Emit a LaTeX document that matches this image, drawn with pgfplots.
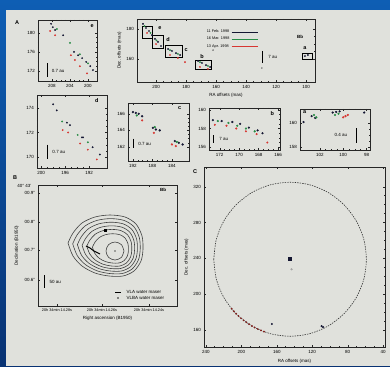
\documentclass[border=0pt]{standalone}
\usepackage{pgfplots}
\usepackage{pgfplotstable}
\pgfplotsset{compat=1.18}
\usepackage{fontspec}
\setmainfont{Liberation Sans}
\definecolor{slideblue}{RGB}{14,94,180}
\definecolor{slidedark}{RGB}{8,50,115}
\definecolor{panelgray}{RGB}{224,225,220}
\definecolor{sgreen}{RGB}{40,140,70}
\definecolor{sred}{RGB}{215,55,50}
\definecolor{sblack}{RGB}{20,22,50}
\newcommand{\tf}{\fontsize{4.5}{4.8}\selectfont}
\newcommand{\lf}{\fontsize{5.5}{6}\selectfont\bfseries}
\pgfplotsset{
  every axis/.append style={
    scale only axis,
    anchor=north west,
    axis line style={line width=0.5pt, black!85},
    every tick/.style={black!85, line width=0.35pt},
    major tick length=1.8pt,
    minor tick length=1pt,
    tick label style={font=\tf},
    label style={font=\tf},
    /pgf/number format/assume math mode=true,
    /pgf/number format/1000 sep={},
    xticklabel style={yshift=0.5pt},
    yticklabel style={xshift=0.5pt},
  },
  blk/.style={only marks, mark=*, mark size=0.7pt, draw=sblack, fill=sblack},
  grn/.style={only marks, mark=*, mark size=0.7pt, draw=sgreen, fill=sgreen},
  rd/.style={only marks, mark=*, mark size=0.7pt, draw=sred, fill=sred},
  bar/.style={black, line width=0.45pt},
}
\pgfplotstableread{
dx dy
-47 -8
-42 -18
-33 -28
-20 -34
-5 -36
10 -34
21 -27
27 -15
28 -2
26 10
19 20
8 25
-6 25
-20 22
-33 15
-42 5
-47 -8
}\contourbase
\begin{document}
\begin{tikzpicture}
\path[use as bounding box] (0,0) rectangle (390pt,-366pt);
\shade[top color=slideblue, bottom color=slidedark] (0,0) rectangle (390pt,-366pt);
\fill[panelgray] (6pt,-10pt) rectangle (390pt,-366pt);
\node[font=\lf] at (17pt,-23pt) {A};
\node[font=\lf] at (15pt,-178pt) {B};
\node[font=\lf] at (195pt,-172pt) {C};

% ---- panel e (top left)
\begin{axis}[at={(38pt,-20pt)}, width=59pt, height=61pt,
  x dir=reverse, xmin=198, xmax=211.1, ymin=169.9, ymax=182.7,
  xtick={200,204,208}, ytick={172,176,180}, minor x tick num=3, minor y tick num=3]
\addplot[blk] coordinates {(208.2,181.9) (207.8,181.2) (207.3,180.6) (205.5,179.5) (203.1,176.0) (202.2,175.3) (201.3,174.7) (200.4,173.9) (199.5,173.0) (198.9,172.2)};
\addplot[grn] coordinates {(206.9,180.8) (204.0,177.9) (201.8,175.5) (200.0,173.6)};
\addplot[rd] coordinates {(208.4,180.4) (207.3,179.5) (203.8,175.3) (202.9,174.3) (201.8,173.0) (200.2,171.5)};
\addplot[bar] coordinates {(209.1,173.6) (209.1,170.7)};
\node[font=\tf, anchor=west] at (axis cs:208.8,172.1) {0.7 au};
\node[font=\lf] at (axis cs:199.1,181.4) {e};
\end{axis}

% ---- panel b (overview)
\begin{axis}[at={(137pt,-19pt)}, width=178pt, height=63pt,
  x dir=reverse, xmin=94, xmax=212.7, ymin=144.7, ymax=186.7,
  xtick={100,120,...,200}, ytick={160,180}, minor x tick num=3, minor y tick num=3,
  xlabel={RA offsets (mas)}, ylabel={Dec. offsets (mas)},
  xlabel style={yshift=2pt}, ylabel style={yshift=-2pt},
  legend style={at={(0.38,0.86)}, anchor=north west, draw=none, fill=none,
    font=\fontsize{3.8}{4}\selectfont, inner sep=0pt, row sep=-1pt},
  legend plot pos=right, legend cell align=left,
  legend image code/.code={\draw[#1, line width=0.6pt] (0pt,0pt) -- (26pt,0pt);},
  legend entries={11 Feb. 1998, 16 Mar. 1998, 13 Apr. 1998}]
\addlegendimage{sblack}
\addlegendimage{sgreen}
\addlegendimage{sred}
\addplot[blk] coordinates {(208.7,183.4) (206.7,180.7) (204.7,178.7) (202.7,176.0) (200.7,173.4) (198.7,171.4) (196.7,168.7) (192.0,166.7) (189.4,165.4) (186.7,164.0) (184.0,162.7) (172.0,158.7) (169.4,157.4) (166.7,156.0) (164.0,154.7) (100.7,162.0) (98.7,162.7)};
\addplot[grn] coordinates {(207.7,182.0) (203.7,177.4) (199.7,172.4) (190.7,166.0) (185.4,163.4) (170.7,158.0) (165.4,155.4)};
\addplot[rd] coordinates {(206.0,177.4) (200.0,170.0) (190.7,162.7) (185.4,160.7) (180.7,158.0) (170.7,154.7) (165.4,153.4)};
\addplot[only marks, mark=*, mark size=0.5pt, black!60] coordinates {(162.0,166.0) (129.4,154.0)};
\addplot[bar] coordinates {(209.4,182.0) (202.7,182.0) (202.7,174.0) (209.4,174.0) (209.4,182.0)};
\addplot[bar] coordinates {(202.7,176.0) (195.4,176.0) (195.4,167.4) (202.7,167.4) (202.7,176.0)};
\addplot[bar] coordinates {(194.0,169.4) (182.7,169.4) (182.7,161.4) (194.0,161.4) (194.0,169.4)};
\addplot[bar] coordinates {(174.0,159.4) (163.4,159.4) (163.4,153.4) (174.0,153.4) (174.0,159.4)};
\addplot[bar] coordinates {(102.7,164.0) (96.0,164.0) (96.0,160.0) (102.7,160.0) (102.7,164.0)};
\addplot[bar] coordinates {(129.4,165.4) (129.4,157.4)};
\node[font=\tf, anchor=west] at (axis cs:127.4,161.4) {7 au};
\node[font=\lf] at (axis cs:197.4,180.7) {e};
\node[font=\lf] at (axis cs:192.0,172.7) {d};
\node[font=\lf] at (axis cs:180.0,166.0) {c};
\node[font=\lf] at (axis cs:169.4,162.0) {b};
\node[font=\lf] at (axis cs:100.7,167.4) {a};
\node[font=\tf\bfseries] at (axis cs:104,174.7) {Bb};
\end{axis}

% ---- panel d
\begin{axis}[at={(37pt,-95pt)}, width=70pt, height=73pt,
  x dir=reverse, xmin=189, xmax=200.7, ymin=169.1, ymax=175.06,
  xtick={192,196,200}, ytick={170,172,174}, minor x tick num=3, minor y tick num=3]
\addplot[blk] coordinates {(198.0,174.3) (197.4,173.8) (195.7,172.8) (195.2,172.6) (193.2,171.6) (193.0,171.6) (191.4,170.8) (190.2,170.2)};
\addplot[grn] coordinates {(196.5,172.9) (193.9,171.8) (192.2,171.2)};
\addplot[rd] coordinates {(196.4,172.2) (195.5,172.0) (193.5,171.1) (192.2,170.6) (190.7,169.8)};
\addplot[bar] coordinates {(199.0,171.0) (199.0,169.8)};
\node[font=\tf, anchor=west] at (axis cs:198.7,170.4) {0.7 au};
\node[font=\lf] at (axis cs:190.7,174.6) {d};
\end{axis}

% ---- panel c
\begin{axis}[at={(128pt,-103pt)}, width=61pt, height=58pt,
  x dir=reverse, xmin=180.5, xmax=193, ymin=160.3, ymax=167.3,
  xtick={184,188,192}, ytick={162,164,166}, minor x tick num=3, minor y tick num=3]
\addplot[blk, mark size=0.95pt] coordinates {(192.0,166.2) (191.4,166.1) (190.8,166.0) (190.1,165.7) (187.9,164.3) (187.3,164.1) (186.5,164.0) (183.4,162.7) (182.6,162.5) (181.8,162.3)};
\addplot[grn, mark size=0.9pt] coordinates {(191.2,165.8) (187.5,164.4) (183.0,162.6)};
\addplot[rd, mark size=0.9pt] coordinates {(190.1,165.2) (187.7,163.7) (184.0,162.3) (183.2,162.1)};
\addplot[bar] coordinates {(192.0,163.0) (192.0,161.9)};
\node[font=\tf, anchor=west] at (axis cs:191.6,162.4) {0.7 au};
\node[font=\lf] at (axis cs:182.4,166.7) {c};
\end{axis}

% ---- panel b (small)
\begin{axis}[at={(209pt,-108pt)}, width=71pt, height=42pt,
  x dir=reverse, xmin=165.8, xmax=173.1, ymin=155.7, ymax=160.2,
  xtick={166,168,170,172}, ytick={156,158,160}, minor x tick num=3, minor y tick num=3]
\addplot[blk, mark size=0.9pt] coordinates {(172.7,158.9) (171.8,158.8) (170.7,158.7) (169.9,158.5) (169.0,158.1) (168.1,157.8) (167.6,157.5)};
\addplot[grn, mark size=0.9pt] coordinates {(172.2,158.8) (171.1,158.6) (170.2,158.3) (169.3,158.0) (168.4,157.7)};
\addplot[rd, mark size=0.8pt] coordinates {(172.5,158.4) (171.3,158.3) (170.3,158.0) (169.3,157.7) (168.2,157.4) (167.1,156.5)};
\addplot[bar] coordinates {(172.7,157.3) (172.7,156.4)};
\node[font=\tf, anchor=west] at (axis cs:172.4,156.85) {7 au};
\node[font=\lf] at (axis cs:166.6,159.6) {b};
\end{axis}

% ---- panel a (small)
\begin{axis}[at={(300pt,-109pt)}, width=70pt, height=41pt,
  x dir=reverse, xmin=97.7, xmax=103.7, ymin=157.75, ymax=161.2,
  xtick={98,100,102}, ytick={158,160}, minor x tick num=3, minor y tick num=3]
\addplot[blk, mark size=0.9pt] coordinates {(102.7,160.6) (102.4,160.45) (100.9,160.9) (100.6,160.95) (100.3,161.0) (98.2,160.9) (103.4,160.1)};
\addplot[grn, mark size=0.9pt] coordinates {(102.5,160.7) (102.3,160.5) (100.7,160.7) (100.4,160.8)};
\addplot[rd, mark size=0.9pt] coordinates {(100.0,160.5) (99.8,160.6) (99.6,160.7)};
\addplot[bar] coordinates {(98.9,159.6) (98.9,158.3)};
\node[font=\tf] at (axis cs:100.2,159.0) {0.4 au};
\node[font=\lf] at (axis cs:103.3,160.95) {a};
\end{axis}

% ---- panel B (contours)
\node[font=\tf, anchor=east] at (35pt,-186pt) {40° 43'};
\begin{axis}[at={(38pt,-185pt)}, width=139pt, height=121pt,
  xmin=0, xmax=139, ymin=0, ymax=121, y dir=reverse,
  xtick={19,64,111}, xticklabels={20h 34min 14.28s, 20h 34min 14.26s, 20h 34min 14.24s},
  ytick={8,37,65,95}, yticklabels={00.9",00.8",00.7",00.6"},
  minor x tick num=3, minor y tick num=3,
  xticklabel style={font=\fontsize{3.8}{4}\selectfont},
  xlabel={Right ascension (B1950)}, ylabel={Declination (B1950)},
  xlabel style={yshift=2pt}, ylabel style={yshift=-1pt}]
\pgfplotsinvokeforeach{1,0.9,0.8,0.7,0.6,0.48}{
  \addplot[black!75, line width=0.6pt, smooth] table[x expr=77+#1*\thisrow{dx}, y expr=66+#1*\thisrow{dy}] {\contourbase};
}
\addplot[black!75, line width=0.6pt, smooth] coordinates {(86,66) (83.4,72.4) (77,75) (70.6,72.4) (68,66) (70.6,59.6) (77,57) (83.4,59.6) (86,66)};
\addplot[black, line width=1pt] coordinates {(48,61) (52,63) (56,66) (60,68) (62,69)};
\addplot[only marks, mark=square*, mark size=1.3pt, black] coordinates {(67,45)};
\addplot[only marks, mark=*, mark size=0.4pt, black] coordinates {(77,66)};
\addplot[black, line width=0.45pt] coordinates {(77,107) (83,107)};
\addplot[only marks, mark=x, mark size=0.8pt, black] coordinates {(80,113)};
\node[font=\tf, anchor=west] at (axis cs:85,107) {VLA water maser};
\node[font=\tf, anchor=west] at (axis cs:85,113) {VLBA water maser};
\node[font=\tf\bfseries] at (axis cs:125,5) {Bb};
\addplot[bar] coordinates {(6,90) (6,103)};
\node[font=\tf, anchor=west] at (axis cs:8,97) {50 au};
\end{axis}

% ---- panel C (ring)
\begin{axis}[at={(204pt,-167pt)}, width=181pt, height=180pt,
  x dir=reverse, xmin=38, xmax=242, ymin=141, ymax=342,
  xtick={40,80,...,240}, ytick={160,200,...,320}, minor x tick num=3, minor y tick num=3,
  xlabel={RA offsets (mas)}, ylabel={Dec. offsets (mas)},
  xlabel style={yshift=1pt}, ylabel style={yshift=-2pt}]
\addplot[black!80, line width=0.6pt, dash pattern=on 1.4pt off 1.1pt, smooth] coordinates {
(231,239) (228.1,261.3) (219.5,282) (205.8,299.8) (188,313.5) (167.3,322.1) (145,325)
(122.7,322.1) (102,313.5) (84.2,299.8) (70.5,282) (61.9,261.3) (59,239) (61.9,216.7)
(70.5,196) (84.2,178.2) (102,164.5) (122.7,155.9) (145,153) (167.3,155.9) (188,164.5)
(205.8,178.2) (219.5,196) (228.1,216.7) (231,239)};
\addplot[only marks, mark=*, mark size=0.7pt, sred!60!black] coordinates {(174.4,158.2) (177.8,159.5) (181.4,161.1) (185,162.8) (188,164.5) (191.2,166.5) (194.3,168.6) (197.4,170.8) (200.3,173.1) (203.1,175.6) (205.8,178.2) (208.4,180.9) (210.9,183.7)};
\addplot[only marks, mark=*, mark size=0.8pt, sblack] coordinates {(107.8,163.3) (109.5,164.3) (165.5,166.7)};
\addplot[only marks, mark=square*, mark size=1.2pt, sblack] coordinates {(145.5,239.5)};
\addplot[only marks, mark=*, mark size=0.9pt, black!35] coordinates {(143.3,227.8)};
\end{axis}
\end{tikzpicture}
\end{document}
